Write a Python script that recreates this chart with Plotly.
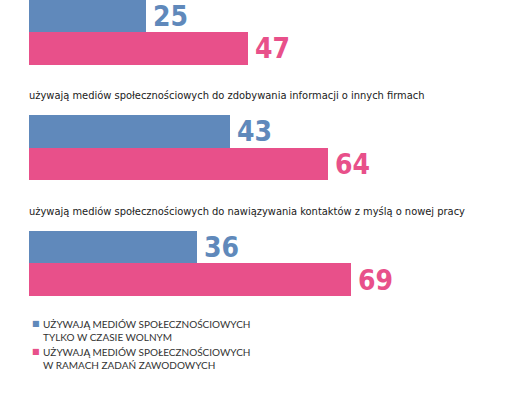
import plotly.graph_objects as go

# ---- data ----
titles = [
    "",
    "używają mediów społecznościowych do zdobywania informacji o innych firmach",
    "używają mediów społecznościowych do nawiązywania kontaktów z myślą o nowej pracy",
]
free_time = [25, 43, 36]
work = [47, 64, 69]
series_names = [
    "UŻYWAJĄ MEDIÓW SPOŁECZNOŚCIOWYCH<br>TYLKO W CZASIE WOLNYM",
    "UŻYWAJĄ MEDIÓW SPOŁECZNOŚCIOWYCH<br>W RAMACH ZADAŃ ZAWODOWYCH",
]
colors = ["#6089bb", "#e8508a"]

# ---- layout params ----
W, H = 524, 398
left = 29
px_per_unit = 4.67
first_top = -0.5
spacing = 115.7
bar_h = 32.5
cond = "DejaVu Sans Condensed, Roboto Condensed, Liberation Sans Narrow, Roboto"

tops = [first_top + i * spacing for i in range(len(titles))]
y_blue = [t + bar_h / 2 for t in tops]
y_pink = [t + bar_h * 1.5 for t in tops]

fig = go.Figure()
for vals, ys, col, name in [(free_time, y_blue, colors[0], series_names[0]),
                            (work, y_pink, colors[1], series_names[1])]:
    fig.add_trace(go.Bar(
        x=vals, y=ys, orientation="h", width=bar_h,
        marker=dict(color=col, line=dict(width=0)),
        name=name, showlegend=False, hoverinfo="x",
    ))
    for v, yy in zip(vals, ys):
        fig.add_annotation(
            x=v, y=yy + 0.5, xref="x", yref="y", text=str(v),
            xanchor="left", yanchor="middle", xshift=5, showarrow=False,
            font=dict(family=cond, size=28, color=col, weight="bold"),
        )

for t, top in zip(titles, tops):
    if t:
        fig.add_annotation(
            x=0, y=top - 19.5, xref="x", yref="y", text=t,
            xanchor="left", yanchor="middle", showarrow=False, xshift=-2,
            font=dict(family=cond, size=11, color="#1a1a1a"),
        )

# legend (as text)
leg_y = [330, 358]
for name, col, ly in zip(series_names, colors, leg_y):
    fig.add_annotation(
        x=30 / W, y=ly - 6.5, xref="paper", yref="y", text="■",
        xanchor="left", yanchor="middle", showarrow=False,
        font=dict(family="DejaVu Sans", size=8, color=col),
    )
    fig.add_annotation(
        x=41 / W, y=ly, xref="paper", yref="y", text=name,
        xanchor="left", yanchor="middle", align="left", showarrow=False,
        font=dict(family="Lato", size=10, color="#333333"),
    )

fig.update_layout(
    width=W, height=H,
    margin=dict(l=0, r=0, t=0, b=0),
    paper_bgcolor="white", plot_bgcolor="white",
    bargap=0,
    xaxis=dict(domain=[left / W, 1],
               range=[0, (W - left) / px_per_unit],
               visible=False, fixedrange=True),
    yaxis=dict(range=[H, 0], visible=False, fixedrange=True),
)

fig.write_html("out.html", config={"displayModeBar": False},
               post_script="document.body.style.margin='0';")
